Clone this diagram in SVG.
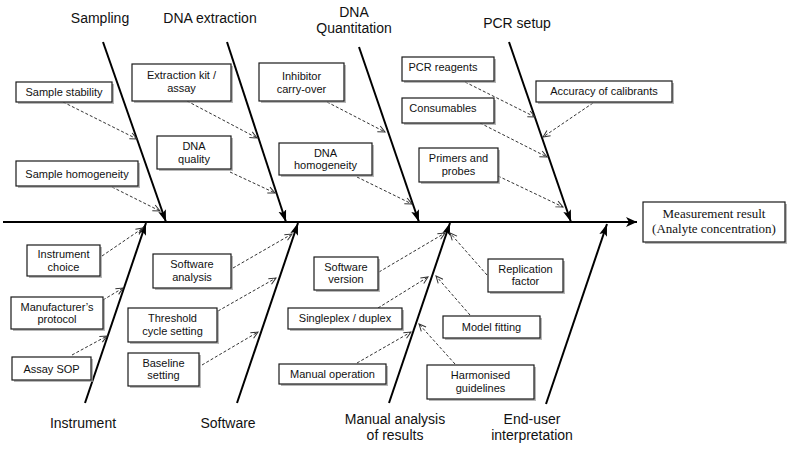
<svg xmlns="http://www.w3.org/2000/svg" width="795" height="450" viewBox="0 0 795 450">
<style>
  .bg{fill:#ffffff}
  .box{fill:#ffffff;stroke:#1a1a1a;stroke-width:1.2}
  .sh{fill:#9a9a9a;opacity:0.7}
  .t{font-family:"Liberation Sans",Arial,sans-serif;font-size:11px;fill:#111;text-anchor:middle}
  .cat{font-family:"Liberation Sans",Arial,sans-serif;font-size:14px;fill:#111;text-anchor:middle}
  .res{font-family:"Liberation Serif","Times New Roman",serif;font-size:13px;fill:#111;text-anchor:middle}
  .bone{stroke:#000;stroke-width:2;fill:none;marker-end:url(#solid)}
  .spine{stroke:#000;stroke-width:2;fill:none;marker-end:url(#spineHead)}
  .dash{stroke:#333;stroke-width:1;stroke-dasharray:3,2;fill:none;marker-end:url(#open)}
</style>
<defs>
  <marker id="solid" markerUnits="userSpaceOnUse" markerWidth="12" markerHeight="10" viewBox="0 0 12 10" refX="12" refY="5" orient="auto">
    <path d="M0,1 L12,5 L0,9 L2.5,5 z" fill="#000"/>
  </marker>
  <marker id="spineHead" markerUnits="userSpaceOnUse" markerWidth="12" markerHeight="12" viewBox="0 0 12 12" refX="11" refY="6" orient="auto">
    <path d="M0,1 L11,6 L0,11 L3,6 z" fill="#000"/>
  </marker>
  <marker id="open" markerUnits="userSpaceOnUse" markerWidth="9" markerHeight="8" viewBox="0 0 9 8" refX="8" refY="4" orient="auto">
    <path d="M1,0.8 L8,4 L1,7.2" fill="none" stroke="#333" stroke-width="1"/>
  </marker>
</defs>
<rect class="bg" x="0" y="0" width="795" height="450"/>

<g id="connectors">
  <line class="spine" x1="3" y1="222" x2="637" y2="222"/>
  <line class="bone" x1="103" y1="42" x2="166" y2="222"/>
  <line class="bone" x1="227" y1="42" x2="286" y2="222"/>
  <line class="bone" x1="359" y1="47" x2="419" y2="222"/>
  <line class="bone" x1="509" y1="42" x2="571" y2="222"/>
  <line class="bone" x1="85" y1="403" x2="146" y2="223"/>
  <line class="bone" x1="237" y1="403" x2="298" y2="223"/>
  <line class="bone" x1="389" y1="403" x2="450" y2="223"/>
  <line class="bone" x1="546" y1="404" x2="607" y2="224"/>

  <line class="dash" x1="63" y1="102" x2="137" y2="139"/>
  <line class="dash" x1="112" y1="187" x2="160" y2="211"/>
  <line class="dash" x1="187" y1="101" x2="257" y2="138"/>
  <line class="dash" x1="230" y1="172" x2="275" y2="193"/>
  <line class="dash" x1="327" y1="102" x2="385" y2="132"/>
  <line class="dash" x1="357" y1="177" x2="412" y2="204"/>
  <line class="dash" x1="465" y1="82" x2="535" y2="117"/>
  <line class="dash" x1="480" y1="123" x2="547" y2="157"/>
  <line class="dash" x1="498" y1="176" x2="563" y2="207"/>
  <line class="dash" x1="593" y1="103" x2="543" y2="137"/>

  <line class="dash" x1="102" y1="256" x2="143" y2="228"/>
  <line class="dash" x1="103" y1="300" x2="123" y2="288"/>
  <line class="dash" x1="72" y1="355" x2="107" y2="336"/>
  <line class="dash" x1="233" y1="268" x2="292" y2="234"/>
  <line class="dash" x1="218" y1="311" x2="276" y2="278"/>
  <line class="dash" x1="202" y1="365" x2="258" y2="332"/>
  <line class="dash" x1="379" y1="272" x2="445" y2="233"/>
  <line class="dash" x1="378" y1="308" x2="428" y2="277"/>
  <line class="dash" x1="357" y1="363" x2="411" y2="332"/>
  <line class="dash" x1="487" y1="275" x2="450" y2="233"/>
  <line class="dash" x1="470" y1="315" x2="436" y2="276"/>
  <line class="dash" x1="455" y1="364" x2="419" y2="324"/>
</g>

<g id="cat-sampling"><text class="cat" x="100" y="23">Sampling</text></g>
<g id="cat-dnaextraction"><text class="cat" x="210" y="23">DNA extraction</text></g>
<g id="cat-dnaquant"><text class="cat" x="354" y="17">DNA</text><text class="cat" x="354" y="33">Quantitation</text></g>
<g id="cat-pcrsetup"><text class="cat" x="517" y="28">PCR setup</text></g>
<g id="cat-instrument"><text class="cat" x="83" y="428">Instrument</text></g>
<g id="cat-software"><text class="cat" x="228" y="428">Software</text></g>
<g id="cat-manual"><text class="cat" x="395" y="424">Manual analysis</text><text class="cat" x="395" y="440">of results</text></g>
<g id="cat-enduser"><text class="cat" x="532" y="424">End-user</text><text class="cat" x="532" y="440">interpretation</text></g>

<g id="n-sample-stability"><rect class="sh" x="18" y="84" width="96" height="20"/><rect class="box" x="16" y="82" width="96" height="20"/><text class="t" x="64" y="96">Sample stability</text></g>
<g id="n-sample-homogeneity"><rect class="sh" x="18" y="163" width="122" height="25"/><rect class="box" x="16" y="161" width="122" height="25"/><text class="t" x="77" y="177.5">Sample homogeneity</text></g>
<g id="n-extraction-kit"><rect class="sh" x="134" y="66" width="99" height="37"/><rect class="box" x="132" y="64" width="99" height="37"/><text class="t" x="181.5" y="79">Extraction kit /</text><text class="t" x="181.5" y="92">assay</text></g>
<g id="n-dna-quality"><rect class="sh" x="159" y="138" width="74" height="33"/><rect class="box" x="157" y="136" width="74" height="33"/><text class="t" x="194" y="150">DNA</text><text class="t" x="194" y="162.5">quality</text></g>
<g id="n-inhibitor"><rect class="sh" x="261" y="65" width="85" height="38"/><rect class="box" x="259" y="63" width="85" height="38"/><text class="t" x="301.5" y="80">Inhibitor</text><text class="t" x="301.5" y="93">carry-over</text></g>
<g id="n-dna-homogeneity"><rect class="sh" x="281" y="145" width="93" height="32"/><rect class="box" x="279" y="143" width="93" height="32"/><text class="t" x="325.5" y="156.5">DNA</text><text class="t" x="325.5" y="169">homogeneity</text></g>
<g id="n-pcr-reagents"><rect class="sh" x="404" y="59" width="92" height="24"/><rect class="box" x="402" y="57" width="92" height="24"/><text class="t" x="443" y="70.5">PCR reagents</text></g>
<g id="n-consumables"><rect class="sh" x="404" y="100" width="92" height="25"/><rect class="box" x="402" y="98" width="92" height="25"/><text class="t" x="443" y="111.5">Consumables</text></g>
<g id="n-primers"><rect class="sh" x="421" y="150" width="79" height="34"/><rect class="box" x="419" y="148" width="79" height="34"/><text class="t" x="458.5" y="162">Primers and</text><text class="t" x="458.5" y="175">probes</text></g>
<g id="n-accuracy"><rect class="sh" x="538" y="83" width="136" height="21"/><rect class="box" x="536" y="81" width="136" height="21"/><text class="t" x="604" y="94.5">Accuracy of calibrants</text></g>

<g id="n-measurement"><rect class="sh" x="645" y="204" width="142" height="40"/><rect class="box" x="643" y="202" width="142" height="40"/><text class="res" x="714" y="218">Measurement result</text><text class="res" x="714" y="232.5">(Analyte concentration)</text></g>

<g id="n-instrument-choice"><rect class="sh" x="29" y="247" width="73" height="31"/><rect class="box" x="27" y="245" width="73" height="31"/><text class="t" x="63.5" y="258">Instrument</text><text class="t" x="63.5" y="270.5">choice</text></g>
<g id="n-manufacturer"><rect class="sh" x="13" y="299" width="92" height="32"/><rect class="box" x="11" y="297" width="92" height="32"/><text class="t" x="57" y="310.5">Manufacturer’s</text><text class="t" x="57" y="323">protocol</text></g>
<g id="n-assay-sop"><rect class="sh" x="14" y="359" width="79" height="23"/><rect class="box" x="12" y="357" width="79" height="23"/><text class="t" x="51.5" y="372.5">Assay SOP</text></g>
<g id="n-software-analysis"><rect class="sh" x="155" y="256" width="78" height="34"/><rect class="box" x="153" y="254" width="78" height="34"/><text class="t" x="192" y="268">Software</text><text class="t" x="192" y="280.5">analysis</text></g>
<g id="n-threshold"><rect class="sh" x="130" y="310" width="89" height="34"/><rect class="box" x="128" y="308" width="89" height="34"/><text class="t" x="172.5" y="322">Threshold</text><text class="t" x="172.5" y="334.5">cycle setting</text></g>
<g id="n-baseline"><rect class="sh" x="130" y="355" width="71" height="33"/><rect class="box" x="128" y="353" width="71" height="33"/><text class="t" x="163.5" y="366.5">Baseline</text><text class="t" x="163.5" y="379">setting</text></g>
<g id="n-software-version"><rect class="sh" x="316" y="259" width="64" height="33"/><rect class="box" x="314" y="257" width="64" height="33"/><text class="t" x="346" y="270.5">Software</text><text class="t" x="346" y="283">version</text></g>
<g id="n-singleplex"><rect class="sh" x="290" y="310" width="114" height="21"/><rect class="box" x="288" y="308" width="114" height="21"/><text class="t" x="345" y="322">Singleplex / duplex</text></g>
<g id="n-manual-operation"><rect class="sh" x="281" y="366" width="107" height="20"/><rect class="box" x="279" y="364" width="107" height="20"/><text class="t" x="332.5" y="378">Manual operation</text></g>
<g id="n-replication"><rect class="sh" x="490" y="261" width="75" height="33"/><rect class="box" x="488" y="259" width="75" height="33"/><text class="t" x="525.5" y="272.5">Replication</text><text class="t" x="525.5" y="285">factor</text></g>
<g id="n-model-fitting"><rect class="sh" x="445" y="318" width="97" height="22"/><rect class="box" x="443" y="316" width="97" height="22"/><text class="t" x="491.5" y="331">Model fitting</text></g>
<g id="n-harmonised"><rect class="sh" x="429" y="367" width="107" height="34"/><rect class="box" x="427" y="365" width="107" height="34"/><text class="t" x="480.5" y="379">Harmonised</text><text class="t" x="480.5" y="391.5">guidelines</text></g>
</svg>
